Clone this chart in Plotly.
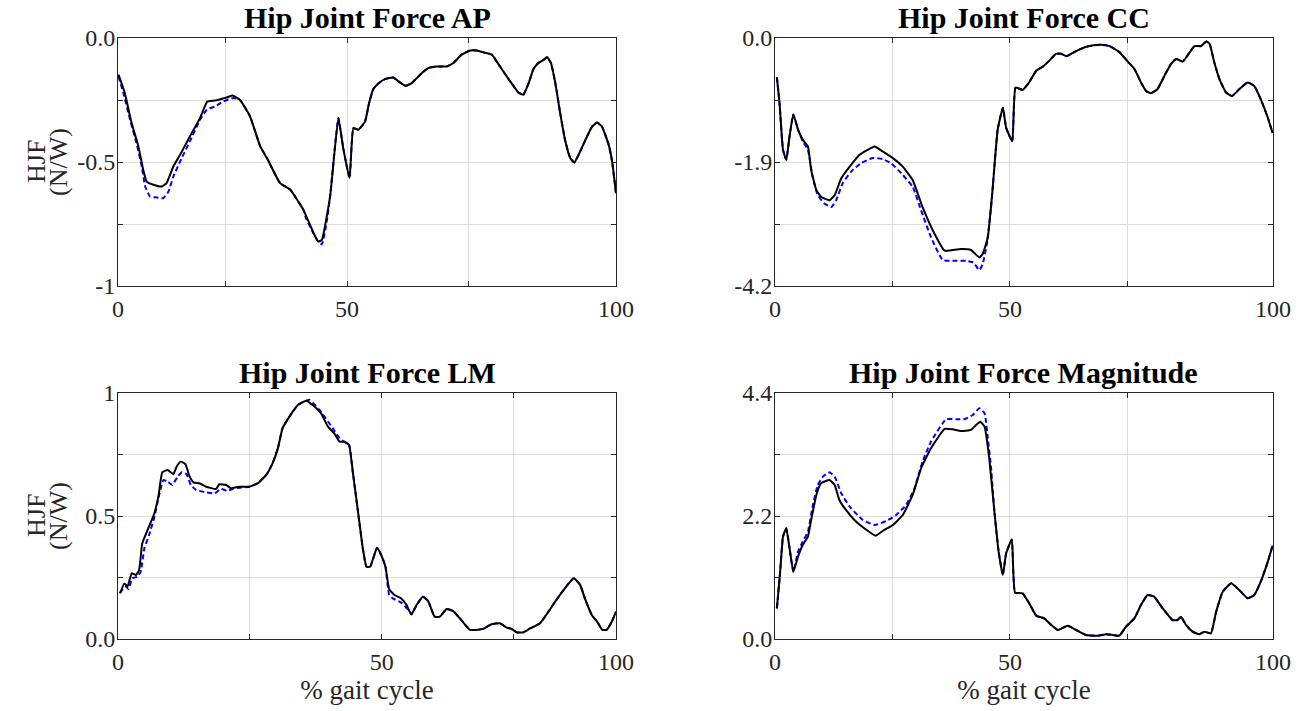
import plotly.graph_objects as go

# ---- Hip joint force, anterior-posterior (N/W) ----
ap_x = [2.9, 4.2, 5.6, 7.0, 8.0, 8.7, 10.1, 11.8, 12.8, 14.2, 15.6, 17.6, 19.7, 21.2, 22.8, 25.5, 26.4,
        27.9, 30.0, 32.1, 33.5, 36.2, 38.3, 41.0, 43.1, 44.1, 44.8, 46.5, 48.2, 49.2, 50.5, 51.3, 52.3,
        53.7, 54.5, 55.4, 56.5, 57.8, 59.5, 60.6, 62.0, 63.3, 65.4, 66.8, 68.5, 70.5, 71.9, 73.6, 75.4,
        76.7, 78.1, 79.8, 81.5, 83.6, 85.3, 86.3, 87.4, 88.4, 89.4, 90.5, 91.2, 92.0, 92.9, 93.9, 94.9,
        96.0, 96.8, 97.7, 99.1, 100.4, 101.5, 102.5, 103.9, 104.6, 105.4]
ap_solid = [-0.148, -0.222, -0.343, -0.437, -0.532, -0.579, -0.592, -0.599, -0.585, -0.518, -0.471, -0.397,
            -0.323, -0.256, -0.252, -0.238, -0.232, -0.249, -0.316, -0.437, -0.485, -0.585, -0.612, -0.693,
            -0.787, -0.821, -0.814, -0.639, -0.323, -0.444, -0.565, -0.363, -0.370, -0.337, -0.265, -0.206,
            -0.182, -0.166, -0.159, -0.175, -0.193, -0.182, -0.141, -0.121, -0.115, -0.115, -0.101, -0.067,
            -0.050, -0.050, -0.058, -0.067, -0.115, -0.175, -0.220, -0.229, -0.182, -0.125, -0.101, -0.088,
            -0.077, -0.101, -0.182, -0.303, -0.411, -0.485, -0.502, -0.471, -0.411, -0.359, -0.341, -0.357,
            -0.431, -0.498, -0.626]
# stretches where the dashed series departs from the solid one
ap_dash_segments = [
    ([2.9, 3.9, 5.3, 6.7, 7.7, 8.4, 9.4, 10.8, 12.1, 13.2, 14.2, 15.9, 17.6, 19.7, 21.1, 22.8, 24.5, 26.6],
     [-0.155, -0.222, -0.330, -0.431, -0.518, -0.599, -0.639, -0.643, -0.646, -0.619, -0.559, -0.485,
      -0.417, -0.330, -0.289, -0.276, -0.256, -0.242]),
    ([41.5, 43.8, 44.8, 45.8], [-0.725, -0.814, -0.832, -0.740]),
]

# ---- Hip joint force, cranio-caudal (N/W) ----
cc_x = [0.4, 0.96, 1.7, 2.4, 3.1, 3.9, 4.9, 5.9, 7.0, 7.7, 8.8, 9.8, 11.6, 12.7, 14.1, 15.9, 18.0, 21.2,
        22.9, 25.1, 27.2, 29.3, 31.4, 33.6, 36.1, 37.8, 39.6, 41.7, 43.5, 44.2, 45.3, 46.3, 47.4, 48.5,
        49.2, 50.5, 51.2, 52.7, 54.1, 55.6, 57.0, 58.4, 59.8, 60.9, 62.1, 63.4, 65.1, 66.9, 69.4, 71.2,
        73.3, 75.1, 76.5, 77.9, 79.0, 80.0, 81.4, 82.9, 84.3, 85.4, 86.8, 87.8, 89.3, 90.7, 91.8, 92.5,
        93.5, 94.6, 96.0, 97.3, 98.8, 100.6, 102.0, 103.4, 104.9, 105.9]
cc_solid = [-0.667, -1.094, -1.892, -2.063, -1.665, -1.294, -1.550, -1.721, -1.836, -2.234, -2.576, -2.690,
            -2.747, -2.662, -2.376, -2.178, -1.978, -1.836, -1.921, -2.034, -2.178, -2.405, -2.862, -3.260,
            -3.602, -3.590, -3.573, -3.590, -3.716, -3.658, -3.374, -2.576, -1.550, -1.180, -1.521, -1.750,
            -0.838, -0.878, -0.752, -0.554, -0.485, -0.383, -0.268, -0.268, -0.308, -0.251, -0.183, -0.137,
            -0.115, -0.137, -0.239, -0.400, -0.525, -0.752, -0.896, -0.935, -0.867, -0.639, -0.439, -0.354,
            -0.400, -0.297, -0.137, -0.137, -0.058, -0.097, -0.410, -0.696, -0.923, -0.981, -0.867, -0.752,
            -0.810, -1.038, -1.350, -1.607]
cc_dash_segments = [
    ([5.9, 7.0, 8.0, 9.1, 10.5, 12.0, 13.0, 14.4, 16.2, 18.3, 20.8, 22.9, 24.7, 26.9, 29.3, 31.1, 33.2,
      35.7, 37.8, 40.7, 42.2, 43.5, 44.2, 45.1, 46.0],
     [-1.750, -1.892, -2.349, -2.662, -2.803, -2.862, -2.747, -2.462, -2.263, -2.120, -2.034, -2.051,
      -2.120, -2.291, -2.519, -2.918, -3.374, -3.761, -3.773, -3.773, -3.801, -3.932, -3.829, -3.487,
      -2.862]),
]

# ---- Hip joint force, latero-medial (N/W) ----
lm_x = [0.4, 1.2, 1.8, 2.6, 3.4, 4.0, 4.6, 5.6, 6.9, 7.7, 8.4, 9.4, 10.5, 11.1, 11.9, 12.8, 13.5, 14.3,
        15.4, 16.7, 18.6, 19.2, 20.5, 21.4, 23.0, 24.9, 26.5, 28.1, 29.3, 30.3, 31.2, 32.5, 34.1, 35.7,
        36.9, 38.5, 39.8, 41.0, 42.0, 42.9, 43.8, 44.5, 45.5, 46.4, 47.1, 47.8, 49.1, 49.9, 50.7, 51.4,
        52.4, 53.7, 54.7, 55.6, 56.6, 57.8, 58.8, 60.0, 61.0, 62.3, 63.5, 64.8, 66.7, 67.9, 69.2, 70.8,
        72.4, 73.7, 74.6, 75.6, 76.8, 78.1, 80.0, 81.6, 83.1, 84.7, 86.4, 87.6, 88.5, 89.8, 90.9, 91.8,
        92.6, 93.6, 94.4]
lm_solid = [0.186, 0.226, 0.213, 0.267, 0.260, 0.280, 0.389, 0.443, 0.511, 0.585, 0.678, 0.687, 0.670,
            0.700, 0.721, 0.710, 0.664, 0.637, 0.633, 0.619, 0.610, 0.629, 0.626, 0.613, 0.619, 0.619,
            0.633, 0.667, 0.714, 0.775, 0.857, 0.904, 0.951, 0.969, 0.951, 0.917, 0.863, 0.836, 0.802,
            0.802, 0.789, 0.680, 0.517, 0.369, 0.294, 0.294, 0.371, 0.341, 0.294, 0.203, 0.179, 0.165,
            0.138, 0.100, 0.138, 0.172, 0.154, 0.091, 0.091, 0.122, 0.114, 0.084, 0.037, 0.037, 0.041,
            0.060, 0.064, 0.046, 0.041, 0.027, 0.027, 0.043, 0.064, 0.111, 0.159, 0.206, 0.247, 0.220,
            0.165, 0.098, 0.068, 0.037, 0.037, 0.070, 0.111]
lm_dash_segments = [
    ([0.5, 1.5, 2.0, 2.7, 3.7, 4.3, 5.0, 5.9, 6.9, 7.8, 8.6, 9.4, 10.3, 11.3, 12.1, 13.0, 13.8, 14.8,
      16.7, 18.3, 19.5, 20.8, 21.7, 23.0],
     [0.192, 0.213, 0.203, 0.247, 0.253, 0.273, 0.369, 0.423, 0.497, 0.585, 0.646, 0.640, 0.626, 0.660,
      0.678, 0.670, 0.626, 0.606, 0.596, 0.592, 0.610, 0.602, 0.610, 0.615]),
    ([36.3, 38.2, 40.7, 42.0], [0.972, 0.931, 0.857, 0.816]),
    ([51.4, 52.1, 53.7, 55.3], [0.179, 0.165, 0.148, 0.111]),
]

# ---- Hip joint force magnitude (N/W) ----
mg_x = [0.4, 1.1, 1.7, 2.4, 3.1, 3.9, 4.9, 5.9, 7.0, 7.7, 8.8, 9.8, 11.6, 12.7, 13.7, 15.1, 16.9, 19.0,
        21.4, 22.9, 25.1, 27.2, 29.3, 31.1, 33.2, 36.1, 37.8, 39.6, 41.7, 42.8, 43.7, 44.6, 45.6, 46.7,
        47.6, 48.5, 49.2, 50.4, 51.1, 52.7, 54.1, 55.6, 57.3, 58.8, 60.2, 62.3, 64.1, 66.2, 68.7, 70.5,
        71.9, 73.3, 74.7, 76.5, 77.9, 79.3, 80.7, 82.5, 84.6, 85.7, 86.4, 87.5, 88.9, 90.3, 91.4, 92.8,
        93.9, 95.3, 97.1, 98.8, 100.6, 102.0, 103.4, 104.9, 105.9]
mg_solid = [0.549, 1.204, 1.830, 1.980, 1.623, 1.204, 1.472, 1.682, 1.830, 2.129, 2.576, 2.785, 2.844,
            2.755, 2.487, 2.308, 2.129, 1.980, 1.848, 1.932, 2.039, 2.218, 2.576, 3.054, 3.411, 3.757,
            3.751, 3.721, 3.739, 3.828, 3.887, 3.798, 3.233, 2.277, 1.562, 1.145, 1.533, 1.780, 0.830,
            0.818, 0.639, 0.417, 0.370, 0.250, 0.161, 0.238, 0.161, 0.072, 0.059, 0.084, 0.072, 0.059,
            0.220, 0.370, 0.608, 0.787, 0.757, 0.549, 0.340, 0.340, 0.399, 0.250, 0.131, 0.084, 0.131,
            0.102, 0.488, 0.846, 0.996, 0.877, 0.728, 0.787, 1.025, 1.383, 1.669]
mg_dash_segments = [
    ([4.9, 5.9, 7.0, 8.0, 9.1, 10.2, 11.6, 12.7, 14.1, 15.9, 18.7, 21.2, 23.7, 25.8, 27.9, 29.7, 31.4,
      33.2, 36.4, 38.6, 40.3, 42.1, 43.5, 44.6, 45.3, 46.0],
     [1.562, 1.741, 1.920, 2.367, 2.755, 2.904, 2.982, 2.904, 2.606, 2.367, 2.129, 2.039, 2.111, 2.218,
      2.397, 2.696, 3.172, 3.530, 3.930, 3.930, 3.930, 4.007, 4.127, 4.038, 3.590, 3.054]),
]

titles = ["Hip Joint Force AP", "Hip Joint Force CC", "Hip Joint Force LM", "Hip Joint Force Magnitude"]
y_title_lines = ["HJF", "(N/W)"]
x_title = "% gait cycle"

# y ticks: five evenly spaced grid levels, labels on ends and middle
y_ranges = [(-1.0, 0.0), (-4.2, 0.0), (0.0, 1.0), (0.0, 4.4)]
y_labels = [["-1", "", "-0.5", "", "0.0"],
            ["-4.2", "", "-1.9", "", "0.0"],
            ["0.0", "", "0.5", "", "1"],
            ["0.0", "", "2.2", "", "4.4"]]
# x axes run over sample frames; grid at 25/50/75, ends labelled 0 and 100
x_ranges = [(2.8, 105.4), (0.0, 106.0), (0.0, 94.4), (0.0, 106.0)]
x_labels = ["0", "", "50", "", "100"]

panels = [(ap_x, ap_solid, ap_dash_segments), (cc_x, cc_solid, cc_dash_segments),
          (lm_x, lm_solid, lm_dash_segments), (mg_x, mg_solid, mg_dash_segments)]


def dashed_series(xs, ys, segments):
    """Dashed series: follows the solid one except along the listed stretches."""
    pts = [(x, y) for x, y in zip(xs, ys)
           if not any(sx[0] <= x <= sx[-1] for sx, _ in segments)]
    for sx, sy in segments:
        pts += list(zip(sx, sy))
    pts.sort()
    return [p[0] for p in pts], [p[1] for p in pts]


W, H = 1311, 711
x_doms = [(118 / W, 616 / W), (775 / W, 1273 / W)]
y_doms = [(1 - 286 / H, 1 - 38 / H), (1 - 639 / H, 1 - 393 / H)]

FONT = "Liberation Serif"
AX = "#262626"
GRID = "#dcdcdc"
TICK_SIZE = 24
LABEL_SIZE = 27
YLABEL_SIZE = 26
TITLE_SIZE = 30

fig = go.Figure()
for i, (xs, ys, segs) in enumerate(panels):
    n = i + 1
    xa = "x" if n == 1 else f"x{n}"
    ya = "y" if n == 1 else f"y{n}"
    dx, dy = dashed_series(xs, ys, segs)
    fig.add_trace(go.Scatter(x=dx, y=dy, mode="lines", xaxis=xa, yaxis=ya, showlegend=False,
                             line=dict(color="#0000ff", width=2, dash="5px,3px", shape="spline",
                                       smoothing=0.4)))
    fig.add_trace(go.Scatter(x=xs, y=ys, mode="lines", xaxis=xa, yaxis=ya, showlegend=False,
                             line=dict(color="#000000", width=2, shape="spline", smoothing=0.4)))

    col, row = i % 2, i // 2
    x0, x1 = x_ranges[i]
    y0, y1 = y_ranges[i]
    ystep = (y1 - y0) / 4
    xkey = "xaxis" if n == 1 else f"xaxis{n}"
    ykey = "yaxis" if n == 1 else f"yaxis{n}"
    common = dict(showline=True, linecolor=AX, linewidth=1, mirror="ticks", ticks="inside",
                  ticklen=5, tickcolor=AX, tickwidth=1, showgrid=True, gridcolor=GRID, gridwidth=1,
                  zeroline=False, automargin=False,
                  tickfont=dict(family=FONT, size=TICK_SIZE, color=AX))
    fig.layout[xkey] = dict(common, domain=x_doms[col], anchor=ya, range=[x0, x1],
                            tickmode="array", tickvals=[x0, 25, 50, 75, x1], ticktext=x_labels,
                            ticklabelstandoff=1,
                            title=dict(text=x_title if row == 1 else "",
                                       font=dict(family=FONT, size=LABEL_SIZE, color=AX), standoff=2))
    fig.layout[ykey] = dict(common, domain=y_doms[row], anchor=xa, range=[y0, y1],
                            tickmode="array", tickvals=[y0 + k * ystep for k in range(5)],
                            ticktext=y_labels[i], ticklabelstandoff=-3)
    fig.add_annotation(text=f"<b>{titles[i]}</b>", xref="paper", yref="paper",
                       x=sum(x_doms[col]) / 2, y=y_doms[row][1], xanchor="center", yanchor="bottom",
                       yshift=2, showarrow=False, font=dict(family=FONT, size=TITLE_SIZE, color="#000000"))
    if col == 0:
        # two-line rotated y label, lines set close together
        ymid = sum(y_doms[row]) / 2
        for k, line_text in enumerate(y_title_lines):
            fig.add_annotation(text=line_text, xref="paper", yref="paper",
                               x=(36 + 22 * k) / W, y=ymid, xanchor="center", yanchor="middle",
                               textangle=-90, showarrow=False,
                               font=dict(family=FONT, size=YLABEL_SIZE, color=AX))

fig.update_layout(width=W, height=H, margin=dict(l=0, r=0, t=0, b=0),
                  paper_bgcolor="white", plot_bgcolor="white")
fig.write_html("out.html")
